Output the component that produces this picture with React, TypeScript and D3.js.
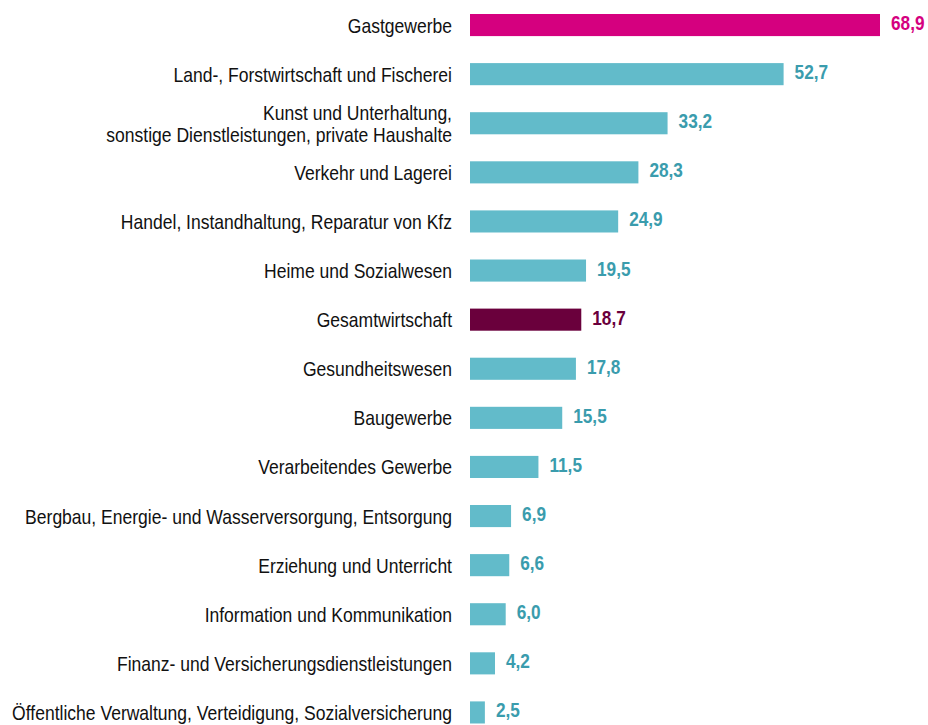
import { useEffect, useRef } from 'react'
import * as d3 from 'd3'

const categories = [
  'Gastgewerbe',
  'Land-, Forstwirtschaft und Fischerei',
  'Kunst und Unterhaltung,\nsonstige Dienstleistungen, private Haushalte',
  'Verkehr und Lagerei',
  'Handel, Instandhaltung, Reparatur von Kfz',
  'Heime und Sozialwesen',
  'Gesamtwirtschaft',
  'Gesundheitswesen',
  'Baugewerbe',
  'Verarbeitendes Gewerbe',
  'Bergbau, Energie- und Wasserversorgung, Entsorgung',
  'Erziehung und Unterricht',
  'Information und Kommunikation',
  'Finanz- und Versicherungsdienstleistungen',
  'Öffentliche Verwaltung, Verteidigung, Sozialversicherung',
]

const values = [68.9, 52.7, 33.2, 28.3, 24.9, 19.5, 18.7, 17.8, 15.5, 11.5, 6.9, 6.6, 6.0, 4.2, 2.5]

// highlighted rows
const highlight: Record<string, { bar: string; text: string }> = {
  Gastgewerbe: { bar: '#d5007f', text: '#d5007f' },
  Gesamtwirtschaft: { bar: '#6a003c', text: '#6a003c' },
}
const BAR = '#62bbca'
const LABEL = '#3a9cad'
const FONT = '"Liberation Sans", Arial, sans-serif'
const NARROW = 0.835 // fake Arial Narrow by squeezing Liberation Sans

export default function App() {
  const svgRef = useRef<SVGSVGElement>(null)

  useEffect(() => {
    if (!svgRef.current) return
    const width = 928
    const height = 725
    const svg = d3.select(svgRef.current)
    svg.selectAll('*').remove()
    svg.attr('width', width).attr('height', height)

    const x = d3.scaleLinear().domain([0, 68.9]).range([470, 880])
    const y = d3.scaleBand<string>()
      .domain(categories)
      .range([0.5, 737])
      .paddingInner(0.55)
      .paddingOuter(0.275)

    const data = categories.map((c, i) => ({ cat: c, value: values[i] }))
    const fmt = (v: number) => v.toFixed(1).replace('.', ',')
    const mid = (c: string) => y(c)! + y.bandwidth() / 2

    // bars
    svg.append('g')
      .selectAll('rect')
      .data(data)
      .enter()
      .append('rect')
      .attr('x', x(0))
      .attr('y', d => y(d.cat)!)
      .attr('width', d => x(d.value) - x(0))
      .attr('height', y.bandwidth())
      .attr('fill', d => highlight[d.cat]?.bar ?? BAR)

    // value labels
    svg.append('g')
      .selectAll('text')
      .data(data)
      .enter()
      .append('text')
      .attr('transform', d => `translate(${x(d.value) + 11},${mid(d.cat) + 5}) scale(0.82,1)`)
      .attr('font-family', FONT)
      .attr('font-weight', 'bold')
      .attr('font-size', '21px')
      .attr('fill', d => highlight[d.cat]?.text ?? LABEL)
      .text(d => fmt(d.value))

    // category labels
    const labels = svg.append('g')
      .selectAll('text')
      .data(data)
      .enter()
      .append('text')
      .attr('transform', d => `translate(452,${mid(d.cat) + 7.5}) scale(${NARROW},1)`)
      .attr('text-anchor', 'end')
      .attr('font-family', FONT)
      .attr('font-size', '21px')
      .attr('fill', '#111')

    labels.each(function (d) {
      const lines = d.cat.split('\n')
      const t = d3.select(this)
      const lh = 22
      const start = -((lines.length - 1) * lh) / 2
      lines.forEach((line, i) => {
        t.append('tspan')
          .attr('x', 0)
          .attr('dy', i === 0 ? start : lh)
          .text(line)
      })
    })
  }, [])

  return (
    <div style={{ position: 'fixed', left: 0, top: 0, background: '#fff' }}>
      <svg ref={svgRef} style={{ display: 'block' }} />
    </div>
  )
}
